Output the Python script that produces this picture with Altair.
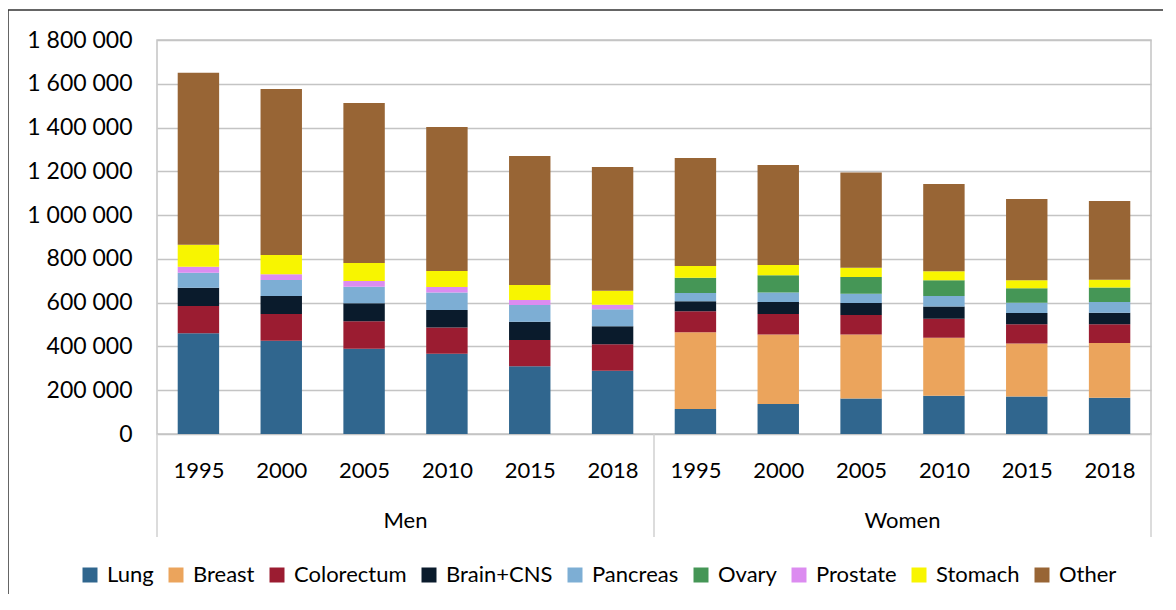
import json
import altair as alt
import pandas as pd

FONT = "Lato"

groups = ["Men", "Women"]
years = ["1995", "2000", "2005", "2010", "2015", "2018"]
cancers = ["Lung", "Breast", "Colorectum", "Brain+CNS", "Pancreas",
           "Ovary", "Prostate", "Stomach", "Other"]
colors = ["#30668e", "#eba45c", "#9b1c31", "#0a1b2c", "#7daed4",
          "#459656", "#dc8cf0", "#f8f500", "#986535"]

# values: Men 1995..2018, then Women 1995..2018
lung = [460000, 426000, 390000, 367000, 309000, 289000,
        114000, 137000, 162000, 175000, 171000, 166000]
breast = [0, 0, 0, 0, 0, 0,
          351000, 318000, 292000, 265000, 242000, 250000]
colorectum = [125000, 122000, 125000, 120000, 121000, 121000,
              96000, 93000, 90000, 87000, 88000, 85000]
brain_cns = [83000, 82000, 82000, 80000, 83000, 82000,
             45000, 55000, 55000, 55000, 52000, 53000]
pancreas = [69000, 74000, 76000, 79000, 76000, 78000,
            38000, 43000, 42000, 49000, 47000, 49000]
ovary = [0, 0, 0, 0, 0, 0,
         70000, 79000, 76000, 71000, 66000, 66000]
prostate = [27000, 26000, 26000, 26000, 23000, 21000,
            0, 0, 0, 0, 0, 0]
stomach = [101000, 88000, 82000, 73000, 69000, 64000,
           54000, 47000, 43000, 41000, 36000, 36000]
other = [785000, 758000, 731000, 657000, 589000, 565000,
         493000, 457000, 435000, 399000, 372000, 360000]

series = [lung, breast, colorectum, brain_cns, pancreas, ovary, prostate, stomach, other]

rows = []
n_years = len(years)
for i in range(len(groups) * n_years):
    for k, (name, vals) in enumerate(zip(cancers, series)):
        if vals[i] > 0:
            rows.append({"idx": i, "group": groups[i // n_years], "year": years[i % n_years],
                         "cancer": name, "order": k, "value": vals[i]})
df = pd.DataFrame(rows)

n = len(groups) * n_years
sep_df = pd.DataFrame({"pos": [g * n_years - 0.5 for g in range(len(groups) + 1)]})
grp_df = pd.DataFrame({"pos": [g * n_years + (n_years - 1) / 2 for g in range(len(groups))],
                       "label": groups})

xscale = alt.Scale(domain=[-0.5, n - 0.5], nice=False, zero=False)
yscale = alt.Scale(domain=[0, 1800000], nice=False)

label_expr = json.dumps(years) + "[datum.value % " + str(n_years) + "]"

xaxis = alt.Axis(values=list(range(n)), labelExpr=label_expr, title=None,
                 grid=False, domain=False, ticks=False, tickSize=0,
                 labelPadding=26, labelFontSize=22, labelFont=FONT,
                 labelColor="black", labelOverlap=False, labelFlush=False)

bars = alt.Chart(df).transform_stack(
    stack="value", groupby=["idx"], as_=["y0", "y1"],
    sort=[alt.SortField("order", order="ascending")]
).transform_calculate(
    xl="datum.idx - 0.25", xr="datum.idx + 0.25"
).mark_bar().encode(
    x=alt.X("xl:Q", scale=xscale, axis=xaxis),
    x2="xr:Q",
    y=alt.Y("y0:Q", scale=yscale,
            axis=alt.Axis(values=list(range(0, 1800001, 200000)),
                          labelExpr="join(split(format(datum.value, ','), ','), ' ')",
                          title=None, grid=True, gridColor="#c4c4c4", gridWidth=1.5,
                          domain=False, ticks=False, tickSize=0, labelPadding=25,
                          labelFontSize=23, labelFont=FONT, labelColor="black")),
    y2="y1:Q",
    color=alt.Color("cancer:N", scale=alt.Scale(domain=cancers, range=colors),
                    legend=alt.Legend(orient="none", legendX=-78, legendY=524,
                                      direction="horizontal", columns=9, title=None,
                                      symbolType="square", symbolSize=225,
                                      symbolStrokeWidth=0, symbolOpacity=1,
                                      labelFontSize=22, labelFont=FONT, labelColor="black",
                                      columnPadding=11, labelOffset=6, padding=0,
                                      labelLimit=0)),
)

seps = alt.Chart(sep_df).mark_rule(color="#d0d0d0", strokeWidth=1.5).encode(
    x=alt.X("pos:Q", scale=xscale, axis=xaxis),
    y=alt.value(394), y2=alt.value(497),
)

grp_text = alt.Chart(grp_df).mark_text(fontSize=22, font=FONT, color="black",
                                       baseline="alphabetic", align="center").encode(
    x=alt.X("pos:Q", scale=xscale, axis=xaxis),
    y=alt.value(488),
    text="label:N",
)

frame = alt.Chart(pd.DataFrame({"f": [0]})).mark_rect(
    filled=False, stroke="#333333", strokeWidth=1.5
).encode(
    x=alt.value(-149), x2=alt.value(3000), y=alt.value(-30), y2=alt.value(3000)
)

chart = alt.layer(bars, seps, grp_text, frame).properties(
    width=994, height=394,
    autosize=alt.AutoSizeParams(type="none"),
    padding={"left": 149, "top": 32, "right": 12, "bottom": 160},
).configure_view(stroke="#c4c4c4", strokeWidth=1.5)

chart.save("out.html", embed_options={"renderer": "svg", "actions": False})
